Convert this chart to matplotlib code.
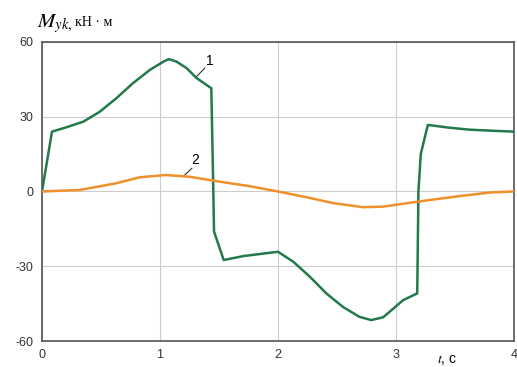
import matplotlib
matplotlib.use("Agg")
from matplotlib import pyplot

pyplot.rcParams["mathtext.fontset"] = "stix"

# curve 1 (green)
t1 = [0.0, 0.085, 0.21, 0.35, 0.49, 0.63, 0.77, 0.915, 1.03, 1.075,
      1.14, 1.225, 1.31, 1.435, 1.452, 1.458, 1.54, 1.71, 2.0, 2.13,
      2.27, 2.41, 2.55, 2.69, 2.79, 2.89, 2.98, 3.06, 3.18, 3.19,
      3.21, 3.27, 3.45, 3.62, 3.8, 4.0]
m1 = [0.0, 24.0, 25.8, 28.0, 32.0, 37.4, 43.4, 48.8, 52.1, 53.1,
      52.1, 49.5, 45.5, 41.4, 0.0, -16.1, -27.5, -25.9, -24.2, -28.2,
      -34.2, -40.9, -46.3, -50.3, -51.6, -50.5, -46.9, -43.6, -40.9, 0.0,
      15.0, 26.7, 25.6, 24.8, 24.4, 24.0]

# curve 2 (orange)
t2 = [0.0, 0.32, 0.63, 0.83, 1.05, 1.25, 1.51, 1.75, 2.0, 2.25,
      2.47, 2.72, 2.89, 3.05, 3.29, 3.55, 3.8, 4.0]
m2 = [0.0, 0.6, 3.3, 5.7, 6.6, 5.9, 3.9, 2.2, 0.0, -2.4,
      -4.7, -6.3, -6.1, -5.0, -3.4, -1.8, -0.4, 0.0]

xticks = [0, 1, 2, 3, 4]
yticks = [-60, -30, 0, 30, 60]

GREEN = "#23794a"
ORANGE = "#f0902a"
FRAME = "#555555"

fig = pyplot.figure(figsize=(5.17, 3.67), dpi=100)
ax = fig.add_axes([0.0812, 0.0708, 0.913, 0.815])

ax.plot(t1, m1, color=GREEN, lw=1.8, zorder=3, solid_joinstyle="round")
ax.plot(t2, m2, color=ORANGE, lw=1.8, zorder=3, solid_joinstyle="round")

ax.set_xlim(0, 4)
ax.set_ylim(-60, 60)
ax.set_xticks(xticks)
ax.set_yticks(yticks)
ax.set_xticklabels([str(x) for x in xticks])
ax.set_yticklabels([str(y) for y in yticks])
ax.grid(True, color="#cccccc", lw=0.8)
ax.tick_params(length=0, labelsize=9, labelcolor="#333333", pad=6)
for lab in ax.get_xticklabels() + ax.get_yticklabels():
    lab.set_family("Liberation Sans")
for sp in ax.spines.values():
    sp.set_color(FRAME)
    sp.set_linewidth(1.2)

# curve labels with leader lines
ax.plot([1.31, 1.38], [46.1, 49.5], color="#333333", lw=0.8)
ax.text(1.425, 52.5, "1", fontsize=10, family="Liberation Sans",
        ha="center", va="center")
ax.plot([1.21, 1.27], [6.6, 9.3], color="#333333", lw=0.8)
ax.text(1.30, 12.5, "2", fontsize=10, family="Liberation Sans",
        ha="center", va="center")

ax.text(3.43, -67.5, r"$t$, c", fontsize=10, family="Liberation Sans",
        ha="center", va="center", clip_on=False)

fig.text(0.072, 0.925, r"$M_{yk,}$", fontsize=15)
fig.text(0.145, 0.93, "кН · м", fontsize=10, family="Liberation Serif")

fig.savefig("out.png", dpi=100)
